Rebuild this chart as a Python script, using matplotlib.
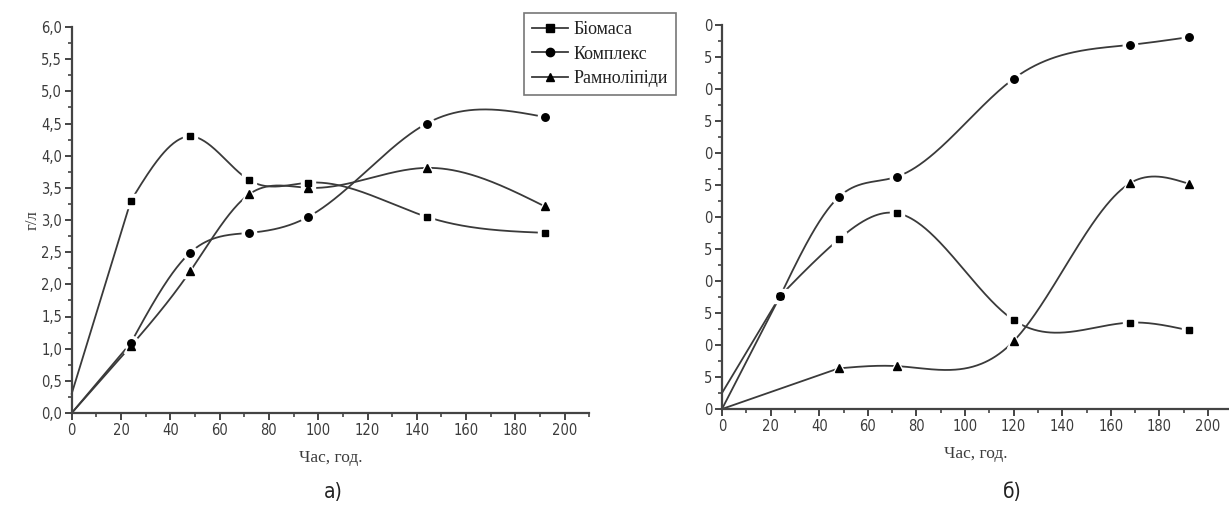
import numpy as np
import matplotlib
matplotlib.use("Agg")
import matplotlib.pyplot as plt
from matplotlib.ticker import MultipleLocator, FixedLocator, FixedFormatter
from matplotlib.lines import Line2D

# ---- data: panel a) ----
time_a = [0, 24, 48, 72, 96, 144, 192]
biomass_a = [0.3, 3.30, 4.30, 3.62, 3.58, 3.05, 2.80]
complex_a = [0.0, 1.09, 2.49, 2.80, 3.05, 4.50, 4.60]
rhamno_a = [0.0, 1.04, 2.20, 3.40, 3.50, 3.81, 3.21]

# ---- data: panel б) ----
time_b_bio = [0, 24, 48, 72, 120, 168, 192]
biomass_b = [2.5, 17.7, 26.5, 30.6, 13.9, 13.5, 12.3]
time_b_cx = [0, 24, 48, 72, 120, 168, 192]
complex_b = [0.0, 17.7, 33.1, 36.3, 51.6, 56.9, 58.1]
time_b_rh = [0, 48, 72, 120, 168, 192]
rhamno_b = [0.0, 6.35, 6.7, 10.6, 35.3, 35.2]

labels = ["Біомаса", "Комплекс", "Рамноліпіди"]
ticks_a = [0, 0.5, 1.0, 1.5, 2.0, 2.5, 3.0, 3.5, 4.0, 4.5, 5.0, 5.5, 6.0]
ticklabels_a = ["0,0", "0,5", "1,0", "1,5", "2,0", "2,5", "3,0", "3,5", "4,0", "4,5", "5,0", "5,5", "6,0"]
ticks_b = [0, 5, 10, 15, 20, 25, 30, 35, 40, 45, 50, 55, 60]
ticklabels_b = ["0", "5", "0", "5", "0", "5", "0", "5", "0", "5", "0", "5", "0"]
xticks = [0, 20, 40, 60, 80, 100, 120, 140, 160, 180, 200]


def natural_spline(x, y, n=400):
    x = np.asarray(x, float)
    y = np.asarray(y, float)
    m = len(x)
    h = np.diff(x)
    A = np.zeros((m, m))
    r = np.zeros(m)
    A[0, 0] = 1
    A[-1, -1] = 1
    for i in range(1, m - 1):
        A[i, i - 1] = h[i - 1]
        A[i, i] = 2 * (h[i - 1] + h[i])
        A[i, i + 1] = h[i]
        r[i] = 3 * ((y[i + 1] - y[i]) / h[i] - (y[i] - y[i - 1]) / h[i - 1])
    c = np.linalg.solve(A, r)
    b = np.zeros(m - 1)
    d = np.zeros(m - 1)
    for i in range(m - 1):
        b[i] = (y[i + 1] - y[i]) / h[i] - h[i] * (2 * c[i] + c[i + 1]) / 3
        d[i] = (c[i + 1] - c[i]) / (3 * h[i])
    xs = np.linspace(x[0], x[-1], n)
    idx = np.clip(np.searchsorted(x, xs, side="right") - 1, 0, m - 2)
    dx = xs - x[idx]
    ys = y[idx] + b[idx] * dx + c[idx] * dx ** 2 + d[idx] * dx ** 3
    return xs, ys


W, H = 1229, 516
fig = plt.figure(figsize=(W / 100, H / 100), dpi=100)

SANS = ["DejaVu Sans"]
serif = ["Liberation Serif", "DejaVu Serif"]
TXT_C = "#3c3c3c"
LINE_C = "#3a3a3a"
markers = ["s", "o", "^"]
msizes = {"s": 4.6, "o": 5.4, "^": 5.6}


def draw_series(ax, x, y, mk):
    ms = msizes[mk]
    # straight start segment, spline through the remaining points
    ax.plot(x[:2], y[:2], color=LINE_C, lw=1.3, zorder=2, clip_on=False)
    xs, ys = natural_spline(x[1:], y[1:])
    ax.plot(xs, ys, color=LINE_C, lw=1.3, zorder=2, clip_on=False)
    ax.plot(x[1:], y[1:], linestyle="none", marker=mk, ms=ms + 5, mfc="white",
            mec="white", zorder=3, clip_on=False)
    ax.plot(x[1:], y[1:], linestyle="none", marker=mk, ms=ms, mfc="black",
            mec="black", zorder=4, clip_on=False)


def style_axes(ax, xmax, ymax, yticks, yticklabels, yminor):
    ax.set_xlim(0, xmax)
    ax.set_ylim(0, ymax)
    for s in ["top", "right"]:
        ax.spines[s].set_visible(False)
    for s in ["left", "bottom"]:
        ax.spines[s].set_color("#444444")
        ax.spines[s].set_linewidth(1.6)
    ax.xaxis.set_major_locator(FixedLocator(xticks))
    ax.xaxis.set_minor_locator(MultipleLocator(10))
    ax.yaxis.set_major_locator(FixedLocator(yticks))
    ax.yaxis.set_major_formatter(FixedFormatter(yticklabels))
    ax.yaxis.set_minor_locator(MultipleLocator(yminor))
    ax.tick_params(which="major", direction="out", length=5, width=1.4, color="#444444", pad=2)
    ax.tick_params(which="minor", direction="out", length=3, width=1.2, color="#444444")
    for lab in ax.get_xticklabels() + ax.get_yticklabels():
        lab.set_fontfamily(SANS)
        lab.set_fontstretch("condensed")
        lab.set_fontsize(10.5)
        lab.set_color(TXT_C)
    ax.set_xlabel("Час, год.", family=serif, fontsize=12.5, color=TXT_C, labelpad=9)


# ---- panel a ----
axa = fig.add_axes([71.7 / W, (H - 413) / H, 2.465 * 210 / W, (413 - 27) / H])
style_axes(axa, 210, 6.0, ticks_a, ticklabels_a, 0.25)
draw_series(axa, time_a, biomass_a, "s")
draw_series(axa, time_a, complex_a, "o")
draw_series(axa, time_a, rhamno_a, "^")
axa.set_ylabel("г/л", family=serif, fontsize=12, color=TXT_C, labelpad=0)

# ---- panel b ----
axb = fig.add_axes([722 / W, (H - 409) / H, 2.43 * 209 / W, (409 - 25) / H])
style_axes(axb, 209, 60, ticks_b, ticklabels_b, 2.5)
draw_series(axb, time_b_bio, biomass_b, "s")
draw_series(axb, time_b_cx, complex_b, "o")
draw_series(axb, time_b_rh, rhamno_b, "^")

# ---- legend ----
handles = [Line2D([], [], color=LINE_C, lw=1.3, marker=m, ms=msizes[m] + 0.6,
                  mfc="black", mec="black") for m in markers]
leg = fig.legend(handles, labels, loc="upper left",
                 bbox_to_anchor=(524 / W, 1 - 13 / H),
                 prop=dict(family=serif, size=13), frameon=True, fancybox=False,
                 edgecolor="#555555", handlelength=2.0, handletextpad=0.3,
                 labelspacing=0.42, borderpad=0.45, borderaxespad=0)
leg.get_frame().set_linewidth(1.2)
for t in leg.get_texts():
    t.set_color("#222222")

# ---- captions ----
fig.text(333 / W, 1 - 492 / H, "а)", ha="center", va="center", fontsize=15,
         family=SANS, stretch="condensed", color="#222222")
fig.text(1012 / W, 1 - 492 / H, "б)", ha="center", va="center", fontsize=15,
         family=SANS, stretch="condensed", color="#222222")

fig.savefig("out.png", dpi=100)
